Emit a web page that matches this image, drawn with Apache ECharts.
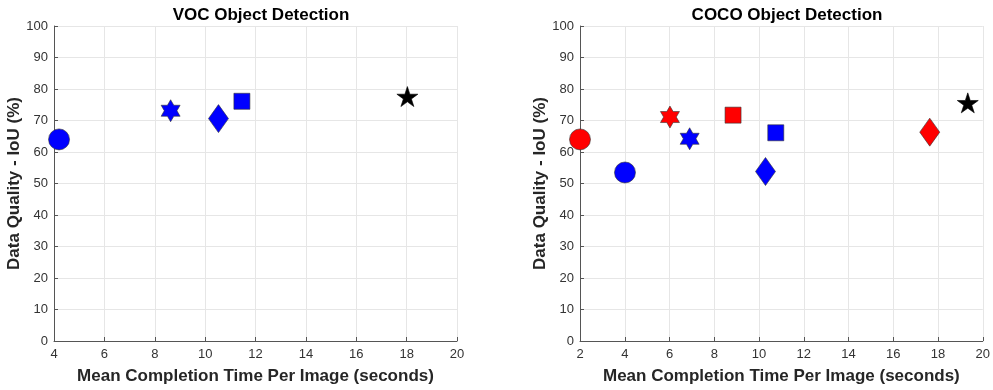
<!DOCTYPE html>
<html>
<head>
<meta charset="utf-8">
<script src="https://cdn.jsdelivr.net/npm/echarts@6/dist/echarts.min.js"></script>
<style>
  html, body { margin: 0; padding: 0; background: #fff; }
  #chart { width: 993px; height: 390px; }
</style>
</head>
<body>
<div id="chart"></div>
<script>
const titles = ["VOC Object Detection", "COCO Object Detection"];
const xName = "Mean Completion Time Per Image (seconds)";
const yName = "Data Quality - IoU (%)";

// VOC points
const vocTime = [4.2, 8.63, 10.53, 11.46, 18.03];
const vocIoU = [64.0, 73.1, 70.6, 76.1, 77.6];
const vocMarker = ["circle", "hexagram", "diamond", "square", "pentagram"];
const vocColor = ["blue", "blue", "blue", "blue", "black"];

// COCO points
const cocoTime = [2.0, 4.01, 6.02, 6.9, 8.84, 10.75, 10.29, 17.63, 19.33];
const cocoIoU = [64.0, 53.5, 71.1, 64.2, 71.7, 66.1, 53.8, 66.3, 75.6];
const cocoMarker = ["circle", "circle", "hexagram", "hexagram", "square", "square", "diamond", "diamond", "pentagram"];
const cocoColor = ["red", "blue", "red", "blue", "red", "blue", "blue", "red", "black"];

const xMin = [4, 2];
const xMax = 20;
const yTicks = [0, 10, 20, 30, 40, 50, 60, 70, 80, 90, 100];

const colors = { blue: "#0000ff", red: "#ff0000", black: "#000000" };
const symbols = {
  circle: { symbol: "circle", size: 21 },
  square: { symbol: "rect", size: 16 },
  diamond: { symbol: "diamond", size: [20, 28] },
  hexagram: {
    symbol: "path://M50,0 L64.43,25 L93.3,25 L78.87,50 L93.3,75 L64.43,75 L50,100 L35.57,75 L6.7,75 L21.13,50 L6.7,25 L35.57,25 Z",
    size: [19, 22]
  },
  pentagram: {
    symbol: "path://M50,0 L61.23,34.55 L97.55,34.55 L68.17,55.9 L79.39,90.45 L50,69.1 L20.61,90.45 L31.83,55.9 L2.45,34.55 L38.77,34.55 Z",
    size: [21, 20]
  }
};

function points(xs, ys, marks, cols) {
  return xs.map((x, i) => {
    const s = symbols[marks[i]];
    return {
      value: [x, ys[i]],
      symbol: s.symbol,
      symbolSize: s.size,
      itemStyle: {
        color: colors[cols[i]],
        borderColor: cols[i] === "black" ? "#000" : "#333",
        borderWidth: 0.6,
        opacity: 1
      }
    };
  });
}

const font = "Liberation Sans, Arial";
const axisText = { color: "#333", fontFamily: font, fontSize: 13 };
const nameText = { color: "#262626", fontFamily: font, fontSize: 17, fontWeight: "bold" };
const gridLine = { show: true, lineStyle: { color: "#e6e6e6", width: 1 } };
const axisColor = "#555";

const grids = [
  { left: 54, right: 536, top: 26, bottom: 48 },
  { left: 580, right: 10, top: 26, bottom: 48 }
];

const option = {
  animation: false,
  backgroundColor: "#fff",
  title: titles.map((t, i) => ({
    text: t,
    left: i === 0 ? 256 : 782,
    top: 2,
    textAlign: "center",
    textStyle: { color: "#000", fontFamily: font, fontSize: 17, fontWeight: "bold" }
  })),
  grid: grids,
  xAxis: [0, 1].map(i => ({
    type: "value",
    gridIndex: i,
    min: xMin[i],
    max: xMax,
    interval: 2,
    name: xName,
    nameLocation: "middle",
    nameGap: 27,
    nameTextStyle: nameText,
    axisLine: { show: true, lineStyle: { color: axisColor, width: 1 } },
    axisTick: { show: true, inside: true, length: 4, lineStyle: { color: axisColor } },
    axisLabel: Object.assign({ margin: 7 }, axisText),
    splitLine: gridLine
  })),
  yAxis: [0, 1].map(i => ({
    type: "value",
    gridIndex: i,
    min: yTicks[0],
    max: yTicks[yTicks.length - 1],
    interval: 10,
    name: yName,
    nameLocation: "middle",
    nameGap: 28,
    nameTextStyle: nameText,
    axisLine: { show: true, lineStyle: { color: axisColor, width: 1 } },
    axisTick: { show: true, inside: true, length: 4, lineStyle: { color: axisColor } },
    axisLabel: Object.assign({ margin: 6 }, axisText),
    splitLine: gridLine
  })),
  series: [
    {
      type: "scatter",
      xAxisIndex: 0,
      yAxisIndex: 0,
      data: points(vocTime, vocIoU, vocMarker, vocColor)
    },
    {
      type: "scatter",
      xAxisIndex: 1,
      yAxisIndex: 1,
      data: points(cocoTime, cocoIoU, cocoMarker, cocoColor)
    }
  ]
};

const chart = echarts.init(document.getElementById("chart"));
chart.setOption(option);
</script>
</body>
</html>
